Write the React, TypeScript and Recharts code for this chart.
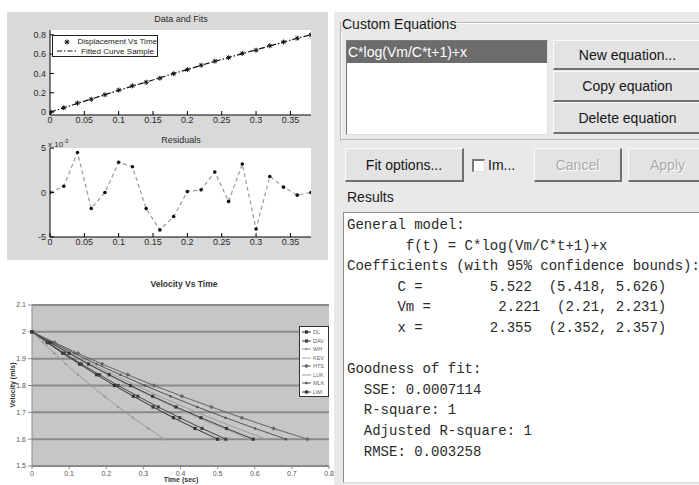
import React from "react";
import { CartesianGrid, Legend, Line, LineChart, XAxis, YAxis } from "recharts";

// ---- Data and Fits (displacement vs time) ----
const fitTimes = [0, 0.02, 0.04, 0.06, 0.08, 0.1, 0.12, 0.14, 0.16, 0.18, 0.2, 0.22, 0.24, 0.26, 0.28, 0.3, 0.32, 0.34, 0.36, 0.38];
const displacement = [0, 0.045, 0.094, 0.133, 0.18, 0.228, 0.272, 0.309, 0.351, 0.397, 0.44, 0.485, 0.527, 0.564, 0.608, 0.641, 0.687, 0.726, 0.765, 0.8];
const fittedCurve = [0, 0.044, 0.09, 0.135, 0.18, 0.225, 0.269, 0.311, 0.355, 0.4, 0.44, 0.485, 0.525, 0.565, 0.605, 0.645, 0.685, 0.725, 0.765, 0.8];
const fitXTicks = [0, 0.05, 0.1, 0.15, 0.2, 0.25, 0.3, 0.35];
const fitYTicks = [0, 0.2, 0.4, 0.6, 0.8];

// ---- Residuals (x 10^-3) ----
const residuals = [0, 0.7, 4.5, -1.8, 0, 3.4, 2.9, -1.8, -4.2, -2.7, 0.1, 0.3, 2.3, -1.0, 3.2, -4.1, 1.8, 0.6, -0.3, 0];
const residualTicks = [-5, 0, 5];

// ---- Velocity Vs Time ----
const velocityLevels = [2.0, 1.96, 1.92, 1.88, 1.84, 1.8, 1.76, 1.72, 1.68, 1.64, 1.6];
const timeDL = [0, 0.041, 0.083, 0.128, 0.174, 0.222, 0.273, 0.326, 0.381, 0.439, 0.5];
const timeDAV = [0, 0.043, 0.087, 0.133, 0.182, 0.232, 0.285, 0.34, 0.398, 0.458, 0.522];
const timeWH = [0, 0.029, 0.06, 0.091, 0.124, 0.159, 0.195, 0.232, 0.272, 0.313, 0.357];
const timeKEV = [0, 0.048, 0.098, 0.149, 0.204, 0.26, 0.319, 0.381, 0.447, 0.515, 0.586];
const timeHTS = [0, 0.061, 0.124, 0.189, 0.258, 0.329, 0.404, 0.483, 0.565, 0.651, 0.742];
const timeLUK = [0, 0.052, 0.105, 0.161, 0.219, 0.28, 0.343, 0.41, 0.48, 0.553, 0.63];
const timeMLK = [0, 0.056, 0.114, 0.174, 0.238, 0.304, 0.373, 0.445, 0.521, 0.601, 0.684];
const timeLWI = [0, 0.049, 0.1, 0.152, 0.208, 0.265, 0.325, 0.388, 0.455, 0.524, 0.596];
const riderNames = ["DL", "DAV", "WH", "KEV", "HTS", "LUK", "MLK", "LWI"];
const riderColors = ["#333", "#444", "#9a9a9a", "#a8a8a8", "#666", "#9c9c9c", "#555", "#3a3a3a"];
const riderMarkers = ["square", "square", "dot", "none", "diamond", "none", "dot", "square"];
const velXTicks = [0, 0.1, 0.2, 0.3, 0.4, 0.5, 0.6, 0.7, 0.8];
const velYTicks = [1.5, 1.6, 1.7, 1.8, 1.9, 2, 2.1];

const fitRows = fitTimes.map((t, i) => ({ t, disp: displacement[i], fit: fittedCurve[i], res: residuals[i] }));
const riderTimes = [timeDL, timeDAV, timeWH, timeKEV, timeHTS, timeLUK, timeMLK, timeLWI];
const riderRows = riderTimes.map((times) => times.map((t, i) => ({ t, v: velocityLevels[i] })));

const sans = "'Liberation Sans', Arial, sans-serif";
const matTick = { fontSize: 9, fill: "#2a2a2a", fontFamily: sans };
const xlTick = { fontSize: 7, fill: "#555", fontFamily: sans };

function StarDot(props: any) {
  const { cx, cy, index } = props;
  if (cx == null || cy == null) return <g key={`s${index}`} />;
  const s = 2.5;
  const d = 1.8;
  return (
    <g key={`s${index}`} stroke="#111" strokeWidth={1}>
      <line x1={cx - s} y1={cy} x2={cx + s} y2={cy} />
      <line x1={cx} y1={cy - s} x2={cx} y2={cy + s} />
      <line x1={cx - d} y1={cy - d} x2={cx + d} y2={cy + d} />
      <line x1={cx - d} y1={cy + d} x2={cx + d} y2={cy - d} />
    </g>
  );
}

function ResidualDot(props: any) {
  const { cx, cy, index } = props;
  if (cx == null || cy == null) return <g key={`r${index}`} />;
  return <circle key={`r${index}`} cx={cx} cy={cy} r={1.8} fill="#111" />;
}

function markerShape(kind: string, color: string, cx: number, cy: number, key: string) {
  if (kind === "square") return <rect key={key} x={cx - 1.6} y={cy - 1.6} width={3.2} height={3.2} fill={color} />;
  if (kind === "diamond")
    return <path key={key} d={`M${cx},${cy - 2.2}L${cx + 2.2},${cy}L${cx},${cy + 2.2}L${cx - 2.2},${cy}Z`} fill={color} />;
  if (kind === "dot") return <circle key={key} cx={cx} cy={cy} r={1.3} fill={color} />;
  return <g key={key} />;
}

function makeMarker(kind: string, color: string) {
  return (p: any) => {
    const key = `m${p.index}`;
    if (p.cx == null || p.cy == null) return <g key={key} />;
    return markerShape(kind, color, p.cx, p.cy, key);
  };
}

function FitLegend({ payload }: any) {
  return (
    <div style={{ width: 106, height: 22, boxSizing: "border-box", background: "#fff", border: "1px solid #222", padding: "1px 0 0 4px" }}>
      {(payload || []).map((e: any, i: number) => (
        <div key={i} style={{ display: "flex", alignItems: "center", height: 9.5, fontSize: 8, fontFamily: sans, color: "#222" }}>
          <svg width={20} height={8}>
            {e.dataKey === "disp" ? (
              <StarDot cx={10} cy={4} index={0} />
            ) : (
              <line x1={0} y1={4} x2={20} y2={4} stroke="#111" strokeDasharray="5 2 1.5 2" />
            )}
          </svg>
          <span style={{ marginLeft: 4, whiteSpace: "nowrap" }}>{e.value}</span>
        </div>
      ))}
    </div>
  );
}

function VelocityLegend({ payload }: any) {
  const items = [...(payload || [])].sort((a: any, b: any) => riderNames.indexOf(a.value) - riderNames.indexOf(b.value));
  return (
    <div style={{ width: 30, height: 71, boxSizing: "border-box", background: "#fff", border: "1px solid #333", padding: "1px 0 0 2px" }}>
      {items.map((e: any, i: number) => {
        const idx = riderNames.indexOf(e.value);
        return (
          <div key={i} style={{ display: "flex", alignItems: "center", height: 8.5, fontSize: 5.5, fontFamily: sans, color: "#666" }}>
            <svg width={9} height={6}>
              <line x1={0} y1={3} x2={9} y2={3} stroke={e.color} />
              {markerShape(riderMarkers[idx], e.color, 4.5, 3, "lg")}
            </svg>
            <span style={{ marginLeft: 2 }}>{e.value}</span>
          </div>
        );
      })}
    </div>
  );
}

function FitChart() {
  return (
    <div style={{ position: "absolute", left: 0, top: 0 }}>
      <LineChart width={330} height={130} data={fitRows} margin={{ top: 30, right: 19, bottom: 0, left: 20 }}>
        <CartesianGrid fill="#fff" horizontal={false} vertical={false} />
        <XAxis dataKey="t" type="number" domain={[0, 0.38]} ticks={fitXTicks} interval={0} height={15} tickSize={-4} tickMargin={6} stroke="#000" tick={matTick} allowDataOverflow />
        <XAxis xAxisId="top" orientation="top" dataKey="t" type="number" domain={[0, 0.38]} ticks={fitXTicks} interval={0} height={0} tickSize={-4} tickFormatter={() => ""} stroke="#000" />
        <YAxis type="number" domain={[-0.03, 0.85]} ticks={fitYTicks} interval={0} width={30} tickSize={-4} tickMargin={8} stroke="#000" tick={matTick} allowDataOverflow />
        <YAxis yAxisId="r" orientation="right" type="number" domain={[-0.03, 0.85]} ticks={fitYTicks} interval={0} width={0} tickSize={-4} tickFormatter={() => ""} stroke="#000" />
        <Line dataKey="disp" name="Displacement Vs Time" stroke="none" dot={StarDot} activeDot={false} isAnimationActive={false} legendType="line" />
        <Line dataKey="fit" name="Fitted Curve Sample" stroke="#111" strokeWidth={1.2} strokeDasharray="6 2 1.5 2" dot={false} activeDot={false} isAnimationActive={false} />
        <Legend layout="vertical" align="center" verticalAlign="middle" wrapperStyle={{ left: 52, top: 35, width: 106, height: 22 }} content={(p: any) => <FitLegend payload={p.payload} />} />
      </LineChart>
    </div>
  );
}

function ResidualChart() {
  return (
    <div style={{ position: "absolute", left: 0, top: 130 }}>
      <LineChart width={330} height={125} data={fitRows} margin={{ top: 18, right: 19, bottom: 0, left: 20 }}>
        <CartesianGrid fill="#fff" horizontal={false} vertical={false} />
        <XAxis dataKey="t" type="number" domain={[0, 0.38]} ticks={fitXTicks} interval={0} height={18} tickSize={-4} tickMargin={6} stroke="#000" tick={matTick} allowDataOverflow />
        <XAxis xAxisId="top" orientation="top" dataKey="t" type="number" domain={[0, 0.38]} ticks={fitXTicks} interval={0} height={0} tickSize={-4} tickFormatter={() => ""} stroke="#000" />
        <YAxis type="number" domain={[-5, 5]} ticks={residualTicks} interval={0} width={30} tickSize={-4} tickMargin={8} stroke="#000" tick={matTick} allowDataOverflow />
        <YAxis yAxisId="r" orientation="right" type="number" domain={[-5, 5]} ticks={residualTicks} interval={0} width={0} tickSize={-4} tickFormatter={() => ""} stroke="#000" />
        <Line dataKey="res" stroke="#9a9a9a" strokeWidth={1.2} strokeDasharray="4 3" dot={ResidualDot} activeDot={false} isAnimationActive={false} />
      </LineChart>
    </div>
  );
}

function VelocityChart() {
  return (
    <div style={{ position: "absolute", left: 0, top: 265 }}>
      <LineChart width={334} height={220} margin={{ top: 40, right: 5, bottom: 0, left: 8 }}>
        <CartesianGrid fill="#c6c6c6" vertical={false} stroke="#8a8a8a" strokeWidth={2} horizontalValues={velYTicks} />
        <XAxis dataKey="t" type="number" domain={[0, 0.8]} ticks={velXTicks} interval={0} height={19} tickSize={3} tickMargin={2} stroke="#8a8a8a" tick={xlTick} allowDuplicatedCategory={false} />
        <YAxis type="number" domain={[1.5, 2.1]} ticks={velYTicks} interval={0} width={24} tickSize={4} tickMargin={2} stroke="#8a8a8a" tick={xlTick} />
        {riderNames.map((name, i) => (
          <Line
            key={name}
            data={riderRows[i]}
            dataKey="v"
            name={name}
            type="monotone"
            stroke={riderColors[i]}
            strokeWidth={1}
            dot={makeMarker(riderMarkers[i], riderColors[i])}
            activeDot={false}
            isAnimationActive={false}
          />
        ))}
        <Legend layout="vertical" align="center" verticalAlign="middle" wrapperStyle={{ left: 299, top: 61, width: 30, height: 71 }} content={(p: any) => <VelocityLegend payload={p.payload} />} />
      </LineChart>
    </div>
  );
}

const panelBg = "#e9e9e9";

function Button({ left, top, width, height, label, disabled }: any) {
  return (
    <div
      style={{
        position: "absolute",
        left,
        top,
        width,
        height,
        boxSizing: "border-box",
        background: "#e3e3e3",
        borderStyle: "solid",
        borderWidth: "1px 2px 2px 1px",
        borderColor: "#fbfbfb #707070 #707070 #fbfbfb",
        display: "flex",
        alignItems: "center",
        justifyContent: "center",
        fontSize: 14,
        color: disabled ? "#a9a9a9" : "#151515",
        textShadow: disabled ? "1px 1px 0 #fff" : "none",
        whiteSpace: "nowrap",
      }}
    >
      {label}
    </div>
  );
}

const resultLines = [
  "General model:",
  "       f(t) = C*log(Vm/C*t+1)+x",
  "Coefficients (with 95% confidence bounds):",
  "      C =        5.522  (5.418, 5.626)",
  "      Vm =        2.221  (2.21, 2.231)",
  "      x =        2.355  (2.352, 2.357)",
  "",
  "Goodness of fit:",
  "  SSE: 0.0007114",
  "  R-square: 1",
  "  Adjusted R-square: 1",
  "  RMSE: 0.003258",
];

function FitPanel() {
  return (
    <div style={{ position: "absolute", left: 334, top: 12, width: 365, height: 473, background: panelBg, fontFamily: sans }}>
      {/* group box */}
      <div style={{ position: "absolute", left: 6, top: 10, width: 370, height: 116, border: "1px solid #b5b5b5", boxShadow: "inset 1px 1px 0 #fff" }} />
      <div style={{ position: "absolute", left: 7, top: 4, fontSize: 14, color: "#1a1a1a", background: panelBg, padding: "0 1px" }}>Custom Equations</div>
      {/* list */}
      <div style={{ position: "absolute", left: 12, top: 28, width: 202, height: 95, boxSizing: "border-box", background: "#fff", borderStyle: "solid", borderWidth: 1, borderColor: "#7a7a7a #e0e0e0 #e0e0e0 #7a7a7a" }}>
        <div style={{ height: 22, background: "#6c6c6c", color: "#fff", fontSize: 14, lineHeight: "22px", paddingLeft: 1 }}>C*log(Vm/C*t+1)+x</div>
      </div>
      <Button left={219} top={28} width={150} height={30} label="New equation..." />
      <Button left={219} top={59} width={150} height={31} label="Copy equation" />
      <Button left={219} top={90} width={150} height={32} label="Delete equation" />
      {/* row of buttons */}
      <Button left={11} top={136} width={119} height={34} label="Fit options..." />
      <div style={{ position: "absolute", left: 138, top: 147, width: 13, height: 13, boxSizing: "border-box", background: "#fff", borderStyle: "solid", borderWidth: "2px 1px 1px 2px", borderColor: "#777 #ddd #ddd #777" }} />
      <div style={{ position: "absolute", left: 154, top: 145, fontSize: 14, color: "#151515" }}>Im...</div>
      <Button left={200} top={136} width={88} height={34} label="Cancel" disabled />
      <Button left={294} top={136} width={80} height={34} label="Apply" disabled />
      {/* results */}
      <div style={{ position: "absolute", left: 13, top: 177, fontSize: 14, color: "#1a1a1a" }}>Results</div>
      <div style={{ position: "absolute", left: 9, top: 200, width: 370, height: 271, boxSizing: "border-box", background: "#fff", borderStyle: "solid", borderWidth: 1, borderColor: "#8c8c8c #ddd #ddd #8c8c8c" }}>
        <pre style={{ margin: 0, padding: "2px 0 0 3px", fontFamily: "'Courier New', 'Liberation Mono', monospace", fontSize: 14, lineHeight: "20.6px", color: "#2a2a2a" }}>
          {resultLines.join("\n")}
        </pre>
      </div>
    </div>
  );
}

export default function App() {
  return (
    <div style={{ position: "fixed", left: 0, top: 0, width: 699, height: 485, overflow: "hidden", background: "#fff", fontFamily: sans }}>
      {/* MATLAB figure background */}
      <div style={{ position: "absolute", left: 7, top: 12, width: 321, height: 248, background: "#d9d9d9" }} />
      <FitChart />
      <ResidualChart />
      <div style={{ position: "absolute", left: 0, top: 14, width: 362, textAlign: "center", fontSize: 9, color: "#2a2a2a" }}>Data and Fits</div>
      <div style={{ position: "absolute", left: 0, top: 135, width: 362, textAlign: "center", fontSize: 9, color: "#2a2a2a" }}>Residuals</div>
      <div style={{ position: "absolute", left: 48, top: 138, fontSize: 8, color: "#2a2a2a" }}>
        x 10<sup style={{ fontSize: 6 }}>-3</sup>
      </div>
      <VelocityChart />
      <div style={{ position: "absolute", left: 0, top: 279, width: 368, textAlign: "center", fontSize: 8.5, fontWeight: "bold", color: "#333" }}>Velocity Vs Time</div>
      <div style={{ position: "absolute", left: 12, top: 385, transform: "translate(-50%, -50%) rotate(-90deg)", fontSize: 7, fontWeight: "bold", color: "#333", whiteSpace: "nowrap" }}>Velocity (m/s)</div>
      <div style={{ position: "absolute", left: 0, top: 476, width: 362, textAlign: "center", fontSize: 7, lineHeight: "8px", fontWeight: "bold", color: "#333" }}>Time (sec)</div>
      <FitPanel />
    </div>
  );
}
